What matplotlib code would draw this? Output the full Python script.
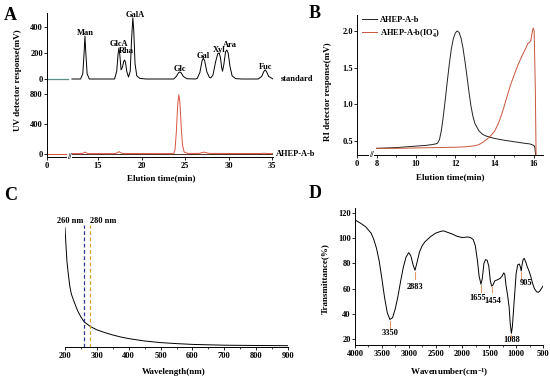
import numpy as np
import matplotlib
matplotlib.use("Agg")
import matplotlib.pyplot as plt
from matplotlib.ticker import MultipleLocator, FixedLocator
import matplotlib.transforms as mtransforms

plt.rcParams['font.family'] = ['Liberation Serif', 'DejaVu Serif']
plt.rcParams['font.weight'] = 'bold'
plt.rcParams['axes.labelweight'] = 'bold'
plt.rcParams['font.size'] = 6
plt.rcParams['mathtext.fontset'] = 'custom'
plt.rcParams['mathtext.rm'] = 'Liberation Serif:bold'
plt.rcParams['mathtext.bf'] = 'Liberation Serif:bold'
plt.rcParams['mathtext.default'] = 'rm'
plt.rcParams['axes.linewidth'] = 0.7
plt.rcParams['xtick.major.size'] = 2
plt.rcParams['ytick.major.size'] = 2
plt.rcParams['xtick.minor.size'] = 1.2
plt.rcParams['xtick.major.width'] = 0.6
plt.rcParams['ytick.major.width'] = 0.6
plt.rcParams['xtick.minor.width'] = 0.5
plt.rcParams['xtick.major.pad'] = 1.5
plt.rcParams['ytick.major.pad'] = 1
plt.rcParams['xtick.labelsize'] = 6
plt.rcParams['ytick.labelsize'] = 6

# ---------- A : monosaccharide composition (HPLC) ----------
std_t = [12.0, 13.0, 13.25, 13.4, 13.5, 13.6, 13.75, 14.0,
         16.9, 17.15, 17.3, 17.4, 17.5, 17.65, 17.8, 17.95, 18.05, 18.15, 18.3,
         18.5, 18.7, 18.85, 19.0, 19.1, 19.25, 19.45, 19.8, 20.5,
         23.7, 24.0, 24.25, 24.4, 24.55, 24.8, 25.2, 26.2,
         26.4, 26.7, 26.95, 27.1, 27.25, 27.5, 27.8, 27.95,
         28.2, 28.5, 28.75, 28.9, 29.05, 29.2, 29.3, 29.45, 29.65, 29.8, 29.95,
         30.15, 30.4, 30.8, 31.5,
         33.4, 33.8, 34.05, 34.2, 34.35, 34.6, 35.1]
std_y = [0, 0, 40, 200, 330, 200, 40, 0,
         0, 60, 190, 238, 190, 70, 90, 135, 146, 130, 60,
         15, 60, 300, 470, 380, 120, 25, 5, 0,
         0, 20, 48, 54, 48, 20, 2, 0,
         5, 50, 140, 160, 140, 55, 12, 8,
         30, 130, 195, 200, 170, 90, 60, 110, 210, 223, 200,
         100, 25, 3, 0,
         0, 20, 58, 70, 58, 20, 0]

smp_t = [12.0, 13.1, 13.35, 13.5, 13.65, 13.9,
         17.0, 17.25, 17.4, 17.55, 17.8,
         23.7, 23.85, 24.0, 24.15, 24.28, 24.4, 24.55, 24.7, 24.9, 25.3,
         26.6, 27.0, 27.2, 27.4, 27.8,
         33.5, 34.1, 34.5, 35.1]
smp_y = [5, 5, 15, 25, 15, 5,
         5, 20, 32, 20, 6,
         5, 60, 300, 650, 790, 700, 380, 120, 25, 8,
         8, 20, 25, 18, 8,
         6, 10, 6, 5]

sugar_names = ['Man', 'GlcA', 'Rha', 'GalA', 'Glc', 'Gal', 'Xyl', 'Ara', 'Fuc']
sugar_times = [13.5, 17.4, 18.05, 19.0, 24.4, 27.1, 28.9, 29.8, 34.2]

# ---------- B : RI detector, before / after periodate ----------
b_t1 = [8.0, 8.5, 9.0, 9.5, 10.0, 10.5, 10.8, 11.0, 11.1, 11.2, 11.3, 11.4, 11.5,
        11.6, 11.7, 11.8, 11.9, 12.0, 12.1, 12.2, 12.3, 12.4, 12.5, 12.6, 12.7,
        12.8, 12.9, 13.0, 13.2, 13.4, 13.6, 13.8, 14.0, 14.5, 15.0, 15.5, 15.8,
        16.0, 16.05, 16.1]
b_y1 = [0.40, 0.405, 0.41, 0.42, 0.43, 0.44, 0.45, 0.46, 0.47, 0.52, 0.65, 0.85, 1.08,
        1.32, 1.55, 1.75, 1.89, 1.97, 2.00, 1.98, 1.90, 1.76, 1.58, 1.38, 1.17,
        0.98, 0.84, 0.74, 0.64, 0.59, 0.565, 0.55, 0.535, 0.51, 0.49, 0.47, 0.46,
        0.44, 0.42, 0.30]
b_t2 = [8.0, 9.0, 10.0, 11.0, 12.0, 12.5, 13.0, 13.2, 13.4, 13.6, 13.8, 14.0,
        14.2, 14.4, 14.6, 14.8, 15.0, 15.2, 15.4, 15.6, 15.7, 15.8, 15.85, 15.9,
        15.97, 16.02, 16.08, 16.12]
b_y2 = [0.40, 0.40, 0.405, 0.41, 0.415, 0.42, 0.435, 0.45, 0.48, 0.52, 0.57, 0.63,
        0.74, 0.89, 1.07, 1.25, 1.40, 1.54, 1.66, 1.77, 1.83, 1.85, 1.87, 1.95,
        2.04, 2.00, 1.20, 0.25]

# ---------- C : UV-vis scan ----------
c_wl = [200, 203, 206, 210, 215, 220, 230, 240, 250, 260, 270, 280, 290, 300,
        325, 350, 375, 400, 450, 500, 550, 600, 700, 800, 900]
c_abs = [2.98, 2.55, 2.15, 1.85, 1.52, 1.32, 1.10, 0.90, 0.75, 0.63, 0.57, 0.51,
         0.47, 0.43, 0.36, 0.30, 0.25, 0.21, 0.15, 0.11, 0.085, 0.065, 0.045,
         0.038, 0.033]
c_marks = [260, 280]

# ---------- D : FT-IR ----------
d_wn = [4000, 3900, 3800, 3700, 3650, 3600, 3550, 3500, 3450, 3400, 3350, 3300,
        3250, 3200, 3150, 3100, 3050, 3000, 2960, 2920, 2883, 2850, 2800, 2750,
        2700, 2600, 2500, 2400, 2350, 2300, 2200, 2100, 2000, 1900, 1850, 1800,
        1760, 1720, 1690, 1655, 1630, 1600, 1570, 1540, 1510, 1480, 1454, 1430,
        1400, 1350, 1300, 1260, 1230, 1210, 1190, 1160, 1130, 1110, 1088, 1070,
        1050, 1020, 1000, 970, 940, 920, 905, 890, 870, 850, 820, 790, 760, 730,
        700, 660, 620, 590, 560, 530, 500]
d_tr = [114.5, 112, 109, 104, 99, 92, 82, 68, 53, 41, 35.5, 37,
        44, 54, 66, 77, 85, 88.5, 86, 79, 74.5, 80, 89, 94,
        97, 101, 104, 105.5, 105.8, 105, 103.5, 101.5, 100.5, 101, 100.5, 99,
        94, 82, 70, 63.5, 68, 80, 83, 82.5, 78, 66, 62, 63,
        66, 67, 68, 70, 72.5, 71, 63, 55, 45, 32, 24.5, 30,
        42, 60, 72, 79, 79.5, 77, 74, 79, 83, 84, 81, 77, 74, 70,
        65, 60, 57.5, 57, 58, 60, 62]
d_peaks = [3350, 2883, 1655, 1454, 1088, 905]

# ---------------------------------------------------------------
W, H = 550, 379


def box(l, t, r, b):
    return [l / W, 1 - b / H, (r - l) / W, (b - t) / H]


fig = plt.figure(figsize=(5.5, 3.79), dpi=100)
red = '#d9543f'

# ---- A
a_zero, a_break = 9.14, 11.7
axA1 = fig.add_axes(box(47, 13, 273, 87))
axA2 = fig.add_axes(box(47, 87, 273, 157))
for ax in (axA1, axA2):
    ax.set_xlim(a_zero, 35.1)
    ax.spines['top'].set_visible(False)
    ax.spines['right'].set_visible(False)
axA1.spines['bottom'].set_visible(False)
axA1.tick_params(axis='x', bottom=False, labelbottom=False)
axA1.set_ylim(-61.5, 507.7)
axA1.yaxis.set_major_locator(FixedLocator([0, 200, 400]))
axA2.set_ylim(-40, 893)
axA2.yaxis.set_major_locator(FixedLocator([0, 400, 800]))
axA2.xaxis.set_major_locator(FixedLocator([a_zero, 15, 20, 25, 30, 35]))
axA2.set_xticklabels(['0', '15', '20', '25', '30', '35'])

axA1.plot([a_zero, a_break - 0.2], [0, 0], color='#5f8f8a', lw=0.9)
axA1.plot(std_t, std_y, color='black', lw=0.7)
axA2.plot([a_zero, 35.1], [-6, -6], color='#4a2a20', lw=0.7)
axA2.plot([a_zero, a_break - 0.2], [0, 0], color=red, lw=0.7)
axA2.plot(smp_t, smp_y, color=red, lw=0.7)

lab_off = [(0, 1), (0, 1.5), (1, 5), (1.5, 0.5), (0, 0.5), (0, 0.5), (0, 0.5), (2, 2), (0, 0.5)]
for name, t, (dx, dy) in zip(sugar_names, sugar_times, lab_off):
    axA1.annotate(name, (t, np.interp(t, std_t, std_y)), xytext=(dx, dy),
                  textcoords='offset points', ha='center', va='baseline', fontsize=6)

trA1 = mtransforms.blended_transform_factory(axA1.transAxes, axA1.transData)
axA1.text(1.035, 0, 'standard', transform=trA1, ha='left', va='center', fontsize=6)
trA2 = mtransforms.blended_transform_factory(axA2.transAxes, axA2.transData)
axA2.text(1.013, 0, 'AHEP-A-b', transform=trA2, ha='left', va='center', fontsize=6)
trA = mtransforms.blended_transform_factory(axA2.transData, axA2.transAxes)
axA2.text(a_break, 0, '//', transform=trA, ha='center', va='center', fontsize=6,
          bbox=dict(facecolor='white', edgecolor='none', pad=0.2))
fig.text(161 / W, 1 - 178 / H, 'Elution time(min)', ha='center', va='center', fontsize=6.5)
fig.text(18 / W, 1 - 80 / H, 'UV detector response(mV)', rotation=90,
         ha='center', va='center', fontsize=6.5)

# ---- B
b_zero, b_break = 7.0, 7.75
axB = fig.add_axes(box(357, 15, 543, 155))
axB.spines['top'].set_visible(False)
axB.spines['right'].set_visible(False)
axB.set_xlim(b_zero, 16.47)
axB.set_ylim(0.309, 2.218)
axB.xaxis.set_major_locator(FixedLocator([b_zero, 8, 10, 12, 14, 16]))
axB.set_xticklabels(['0', '8', '10', '12', '14', '16'])
axB.xaxis.set_minor_locator(FixedLocator([9, 11, 13, 15]))
axB.yaxis.set_major_locator(FixedLocator([0.5, 1.0, 1.5, 2.0]))
axB.plot(b_t1, b_y1, color='#222222', lw=0.7, label='AHEP-A-b')
axB.plot(b_t2, b_y2, color='#c8553d', lw=0.7, label='AHEP-A-b(IO$_4^{-}$)')
trB = mtransforms.blended_transform_factory(axB.transData, axB.transAxes)
axB.text(b_break, 0, '//', transform=trB, ha='center', va='center', fontsize=6,
         bbox=dict(facecolor='white', edgecolor='none', pad=0.2))
axB.legend(loc='upper left', bbox_to_anchor=(0.0, 1.03), frameon=False, fontsize=6,
           handlelength=1.8, handletextpad=0.3, labelspacing=0.4, borderaxespad=0.2)
fig.text(450 / W, 1 - 177 / H, 'Elution time(min)', ha='center', va='center', fontsize=6.5)
fig.text(328 / W, 1 - 92 / H, 'RI detector response(mV)', rotation=90,
         ha='center', va='center', fontsize=6.5)

# ---- C
axC = fig.add_axes(box(65, 225, 288, 347))
for s in ('top', 'right', 'left'):
    axC.spines[s].set_visible(False)
axC.tick_params(axis='y', left=False, labelleft=False)
axC.set_xlim(200, 900)
axC.set_ylim(0, 3.05)
axC.xaxis.set_major_locator(MultipleLocator(100))
axC.xaxis.set_minor_locator(MultipleLocator(50))
axC.plot(c_wl, c_abs, color='black', lw=0.7)
for wl, col in zip(c_marks, ['#2b3a9a', '#d6a520']):
    axC.axvline(wl, color=col, lw=0.9, ls=(0, (3, 2)))
axC.text(c_marks[0] - 2, 3.05, '%d nm' % c_marks[0], ha='right', va='bottom', fontsize=6)
axC.text(c_marks[1] - 2, 3.05, '%d nm' % c_marks[1], ha='left', va='bottom', fontsize=6)
fig.text(174 / W, 1 - 372 / H, 'Wavelength(nm)', ha='center', va='center', fontsize=6.5)

# ---- D
axD = fig.add_axes(box(355, 208, 543, 345))
axD.spines['top'].set_visible(False)
axD.spines['right'].set_visible(False)
axD.set_xlim(4000, 500)
axD.set_ylim(15.24, 123.97)
axD.xaxis.set_major_locator(MultipleLocator(500))
axD.xaxis.set_minor_locator(MultipleLocator(250))
axD.yaxis.set_major_locator(MultipleLocator(20))
axD.plot(d_wn, d_tr, color='black', lw=0.7)
pk_mark = [7, 7, 7, 5, 3, 7]
pk_lab = [(0, -9.4), (0, -12.2), (-2.5, -10), (1, -10.5), (0, -4.7), (3.6, -8.6)]
for wn, ml, (dx, dy) in zip(d_peaks, pk_mark, pk_lab):
    tv = np.interp(-wn, [-w for w in d_wn], d_tr)
    axD.plot([wn, wn], [tv - 1.0, tv - 1.0 - ml / 1.26], color='#e09a6a', lw=0.8)
    axD.annotate(str(wn), (wn, tv), xytext=(dx, dy), textcoords='offset points',
                 ha='center', va='center', fontsize=6)
fig.text(449 / W, 1 - 373 / H, 'Wavenumber(cm$^{-1}$)', ha='center', va='center', fontsize=6.5)
fig.text(325 / W, 1 - 279 / H, 'Transmittance(%)', rotation=90,
         ha='center', va='center', fontsize=6.5)

# panel letters
for lt, (x, y) in zip('ABCD', [(10, 15), (315, 13), (11, 195), (315, 193)]):
    fig.text(x / W, 1 - y / H, lt, ha='center', va='center', fontsize=13, fontweight='bold')

fig.savefig('out.png', dpi=100)
